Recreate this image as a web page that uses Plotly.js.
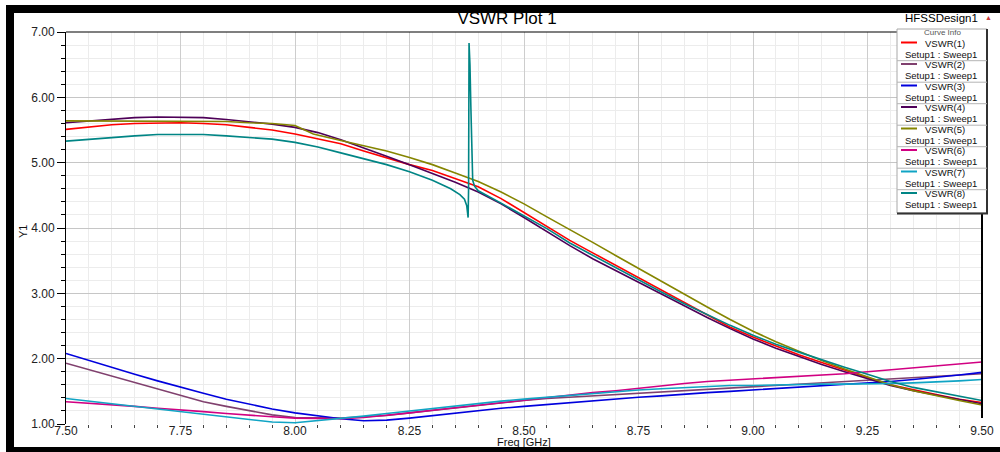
<!DOCTYPE html>
<html><head><meta charset="utf-8">
<script src="https://cdn.plot.ly/plotly-3.0.1.min.js"></script>
<style>
html,body{margin:0;padding:0;background:#fff;overflow:hidden}
#wrap{position:relative;width:1000px;height:452px}
#chart{width:1000px;height:452px}
.bar{position:absolute;background:#000;z-index:10}
</style>
</head><body>
<div id="wrap">
<div id="chart"></div>
<div class="bar" style="left:6px;top:5px;width:994px;height:8px"></div>
<div class="bar" style="left:6px;top:5px;width:8px;height:447px"></div>
<div class="bar" style="left:6px;top:447px;width:994px;height:5px"></div>
</div>
<script>
// ---------- data ----------
const freq = [7.50,7.55,7.60,7.65,7.70,7.75,7.80,7.85,7.90,7.95,8.00,8.05,8.10,8.15,8.20,8.25,8.30,8.35,8.40,8.45,8.50,8.55,8.60,8.65,8.70,8.75,8.80,8.85,8.90,8.95,9.00,9.05,9.10,9.15,9.20,9.25,9.30,9.35,9.40,9.45,9.50];

const vswr1 = [5.51,5.55,5.58,5.60,5.61,5.61,5.60,5.58,5.54,5.50,5.44,5.37,5.29,5.18,5.07,4.97,4.88,4.76,4.63,4.45,4.24,4.03,3.81,3.62,3.43,3.24,3.05,2.85,2.66,2.48,2.33,2.19,2.06,1.94,1.82,1.71,1.60,1.52,1.45,1.38,1.33];
const vswr2 = [1.93,1.83,1.73,1.63,1.53,1.43,1.34,1.27,1.20,1.14,1.10,1.09,1.09,1.11,1.13,1.17,1.21,1.25,1.29,1.33,1.36,1.39,1.41,1.43,1.45,1.47,1.49,1.51,1.53,1.55,1.57,1.59,1.61,1.63,1.65,1.67,1.69,1.71,1.73,1.75,1.77];
const vswr3 = [2.08,1.97,1.86,1.76,1.66,1.56,1.47,1.38,1.30,1.23,1.17,1.12,1.08,1.05,1.06,1.09,1.13,1.17,1.21,1.24,1.27,1.30,1.33,1.35,1.38,1.41,1.43,1.46,1.48,1.50,1.52,1.54,1.56,1.58,1.60,1.62,1.65,1.68,1.71,1.75,1.79];
const vswr4 = [5.61,5.64,5.67,5.69,5.70,5.70,5.69,5.66,5.63,5.59,5.54,5.46,5.35,5.23,5.10,4.97,4.84,4.70,4.55,4.37,4.16,3.94,3.73,3.53,3.35,3.16,2.98,2.80,2.63,2.46,2.30,2.16,2.03,1.91,1.80,1.69,1.59,1.51,1.44,1.37,1.31];

const freq5 = [7.50,7.55,7.60,7.65,7.70,7.75,7.80,7.85,7.90,7.95,8.00,8.02,8.04,8.10,8.15,8.20,8.25,8.30,8.35,8.40,8.45,8.50,8.55,8.60,8.65,8.70,8.75,8.80,8.85,8.90,8.95,9.00,9.05,9.10,9.15,9.20,9.25,9.30,9.35,9.40,9.45,9.50];
const vswr5 = [5.64,5.64,5.64,5.64,5.64,5.64,5.64,5.63,5.61,5.60,5.57,5.50,5.44,5.34,5.26,5.18,5.08,4.97,4.84,4.71,4.55,4.37,4.17,3.98,3.78,3.58,3.38,3.18,2.98,2.79,2.60,2.42,2.26,2.11,1.97,1.84,1.72,1.60,1.51,1.43,1.36,1.29];

const vswr6 = [1.34,1.32,1.29,1.27,1.24,1.22,1.19,1.16,1.13,1.11,1.09,1.08,1.08,1.10,1.13,1.17,1.21,1.25,1.29,1.32,1.36,1.40,1.44,1.48,1.51,1.55,1.59,1.62,1.65,1.67,1.69,1.70,1.72,1.74,1.77,1.80,1.83,1.86,1.89,1.92,1.95];
const vswr7 = [1.39,1.35,1.31,1.27,1.23,1.19,1.15,1.11,1.07,1.03,1.02,1.05,1.09,1.12,1.16,1.20,1.24,1.28,1.32,1.35,1.38,1.41,1.44,1.47,1.50,1.52,1.54,1.56,1.58,1.59,1.59,1.60,1.60,1.61,1.61,1.61,1.62,1.63,1.64,1.66,1.68];

const freq8 = [7.50,7.55,7.60,7.65,7.70,7.75,7.80,7.85,7.90,7.95,8.00,8.05,8.10,8.15,8.20,8.25,8.30,8.34,8.36,8.37,8.375,8.378,8.379,8.380,8.382,8.384,8.386,8.388,8.392,8.40,8.45,8.50,8.55,8.60,8.65,8.70,8.75,8.80,8.85,8.90,8.95,9.00,9.05,9.10,9.15,9.20,9.25,9.30,9.35,9.40,9.45,9.50];
const vswr8 = [5.33,5.36,5.39,5.41,5.43,5.43,5.43,5.41,5.39,5.36,5.31,5.24,5.15,5.06,4.97,4.86,4.73,4.60,4.51,4.44,4.34,4.16,4.60,6.83,6.50,5.85,5.00,4.73,4.64,4.57,4.38,4.19,3.99,3.77,3.58,3.39,3.20,3.02,2.84,2.67,2.51,2.36,2.22,2.10,1.98,1.87,1.76,1.65,1.56,1.49,1.42,1.36];

const seriesNames = ["VSWR(1)","VSWR(2)","VSWR(3)","VSWR(4)","VSWR(5)","VSWR(6)","VSWR(7)","VSWR(8)"];
const seriesSub = "Setup1 : Sweep1";
const seriesColors = ["#ff0000","#80406e","#0000dd","#4e0058","#858500","#d10082","#10a4c4","#008585"];

// ---------- build ----------
const xs = [freq, freq, freq, freq, freq5, freq, freq, freq8];
const ys = [vswr1, vswr2, vswr3, vswr4, vswr5, vswr6, vswr7, vswr8];
const traces = seriesNames.map((n,i)=>({
  x: xs[i], y: ys[i], name: n, type:'scatter', mode:'lines',
  line:{color:seriesColors[i], width:1.6}, showlegend:false
}));

// pixel helpers (plot area 66..982 x, 32..424 y)
const L=66, R=982, T=32, B=424;
const PX = p => (p-L)/(R-L);
const PY = p => (B-p)/(B-T);

const FONT = "Liberation Sans, Arial, Helvetica, sans-serif";
const shapes = [
  {type:'line', xref:'paper', yref:'paper', x0:0, x1:1, y0:1, y1:1, line:{color:'#000', width:1.2}},
  {type:'line', xref:'paper', yref:'paper', x0:1, x1:1, y0:PY(418), y1:1, line:{color:'#000', width:2}},
  // legend box
  {type:'rect', xref:'paper', yref:'paper', x0:PX(897), x1:PX(987), y0:PY(213), y1:PY(29), fillcolor:'#fff', line:{color:'#a8a8a8', width:1}},
  {type:'line', xref:'paper', yref:'paper', x0:PX(987), x1:PX(987), y0:PY(214), y1:PY(29), line:{color:'#333', width:2}},
  {type:'line', xref:'paper', yref:'paper', x0:PX(897), x1:PX(988), y0:PY(213.5), y1:PY(213.5), line:{color:'#333', width:2}}
];
const annotations = [
  {text:'HFSSDesign1', xref:'paper', yref:'paper', x:PX(941), y:PY(18), xanchor:'center', yanchor:'middle', showarrow:false, font:{family:FONT, size:11.5, color:'#000'}},
  {text:'▲', xref:'paper', yref:'paper', x:PX(988), y:PY(17), xanchor:'center', yanchor:'middle', showarrow:false, font:{family:FONT, size:7, color:'#cc3a3a'}},
  {text:'Freq [GHz]', xref:'paper', yref:'paper', x:PX(524), y:PY(441.5), xanchor:'center', yanchor:'middle', showarrow:false, font:{family:FONT, size:11, color:'#111'}},
  {text:'Y1', xref:'paper', yref:'paper', x:PX(23), y:PY(232), xanchor:'center', yanchor:'middle', textangle:-90, showarrow:false, font:{family:FONT, size:11, color:'#111'}},
  {text:'Curve Info', xref:'paper', yref:'paper', x:PX(942), y:PY(33), xanchor:'center', yanchor:'middle', showarrow:false, font:{family:FONT, size:8, color:'#555'}}
];
seriesNames.forEach((n,i)=>{
  const t = 38.5 + i*21.5;
  shapes.push({type:'line', xref:'paper', yref:'paper', x0:PX(901), x1:PX(917), y0:PY(t+4), y1:PY(t+4), line:{color:seriesColors[i], width:2}});
  if(i<7) shapes.push({type:'line', xref:'paper', yref:'paper', x0:PX(897), x1:PX(987), y0:PY(t+22.2), y1:PY(t+22.2), line:{color:'#b4b4b4', width:1}});
  annotations.push({text:n, xref:'paper', yref:'paper', x:PX(945), y:PY(t+4.6), xanchor:'center', yanchor:'middle', showarrow:false, borderpad:0, font:{family:FONT, size:9.5, color:'#111'}});
  annotations.push({text:seriesSub, xref:'paper', yref:'paper', x:PX(941), y:PY(t+15.6), xanchor:'center', yanchor:'middle', showarrow:false, borderpad:0, font:{family:FONT, size:9.5, color:'#111'}});
});

const layout = {
  width:1000, height:452, autosize:false,
  margin:{l:L, r:1000-R, t:T, b:452-B, pad:0},
  paper_bgcolor:'#fff', plot_bgcolor:'#fff',
  title:{text:'VSWR Plot 1', font:{family:FONT, size:17, color:'#000'}, x:0.507, xref:'container', xanchor:'center', y:1-18/452, yref:'container', yanchor:'middle'},
  xaxis:{range:[7.5,9.5], tick0:7.5, dtick:0.25, tickformat:'.2f', ticks:'', showline:false, zeroline:false,
    ticklabelstandoff:-2,
    showgrid:true, gridcolor:'#cdcdcd', gridwidth:1,
    minor:{dtick:0.05, showgrid:true, gridcolor:'#ececec', ticks:'outside', ticklen:3, tickcolor:'#444'},
    tickfont:{family:FONT, size:12, color:'#222'}},
  yaxis:{range:[1,7], tick0:1, dtick:1, tickformat:'.2f', ticks:'outside', ticklen:8, tickcolor:'#000',
    showline:true, linecolor:'#000', linewidth:1, zeroline:false,
    showgrid:true, gridcolor:'#c6c6c6', gridwidth:1,
    minor:{dtick:0.2, showgrid:true, gridcolor:'#ececec', ticks:'outside', ticklen:4, tickcolor:'#000'},
    tickfont:{family:FONT, size:12, color:'#222'}},
  shapes: shapes, annotations: annotations, showlegend:false
};
Plotly.newPlot('chart', traces, layout, {staticPlot:true, displayModeBar:false});
</script>
</body></html>
